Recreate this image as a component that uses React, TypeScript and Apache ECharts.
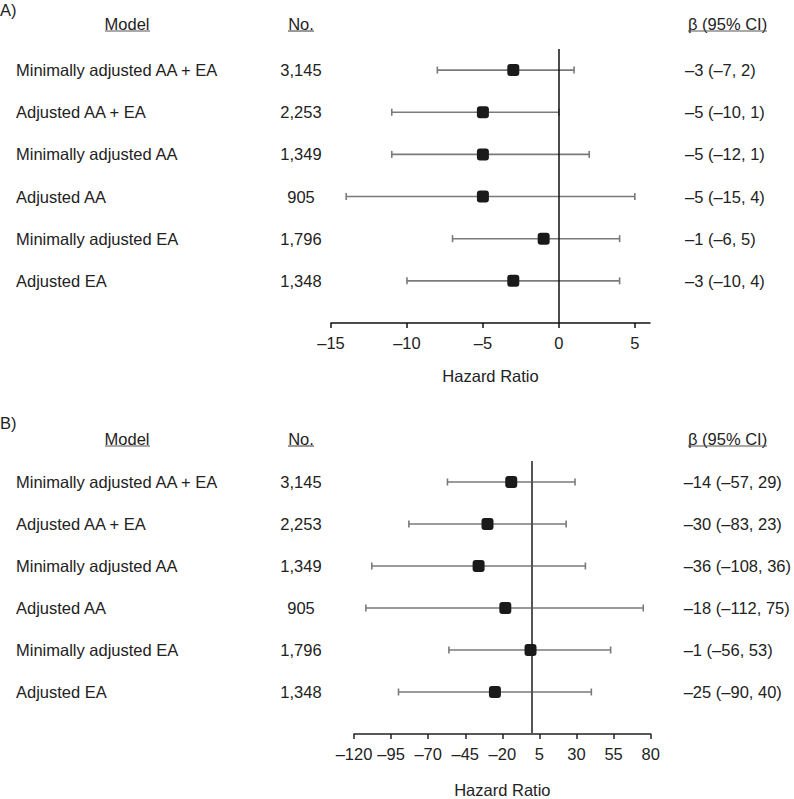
import React, { useEffect, useRef } from "react";
import * as echarts from "echarts";

const models = [
  "Minimally adjusted AA + EA",
  "Adjusted AA + EA",
  "Minimally adjusted AA",
  "Adjusted AA",
  "Minimally adjusted EA",
  "Adjusted EA",
];
const countsA = ["3,145", "2,253", "1,349", "905", "1,796", "1,348"];
const countsB = ["3,145", "2,253", "1,349", "905", "1,796", "1,348"];
const betaTextA = ["–3 (–7, 2)", "–5 (–10, 1)", "–5 (–12, 1)", "–5 (–15, 4)", "–1 (–6, 5)", "–3 (–10, 4)"];
const betaTextB = ["–14 (–57, 29)", "–30 (–83, 23)", "–36 (–108, 36)", "–18 (–112, 75)", "–1 (–56, 53)", "–25 (–90, 40)"];

// Panel A values as drawn
const estA = [-3, -5, -5, -5, -1, -3];
const lowA = [-8, -11, -11, -14, -7, -10];
const highA = [1, 0, 2, 5, 4, 4];
// Panel B values
const estB = [-14, -30, -36, -18, -1, -25];
const lowB = [-57, -83, -108, -112, -56, -90];
const highB = [29, 23, 36, 75, 53, 40];

const ticksA = [-15, -10, -5, 0, 5];
const ticksB = [-120, -95, -70, -45, -20, 5, 30, 55, 80];
const rows = [0, 1, 2, 3, 4, 5];

const FONT = "'Liberation Sans', Arial, Helvetica, sans-serif";
const TXT = "#222";
const FS = 16.5;

export default function App() {
  const ref = useRef<HTMLDivElement>(null);
  useEffect(() => {
    if (!ref.current) return;
    const chart = echarts.init(ref.current, null, { renderer: "svg" });

    const labelBase = { fontSize: FS, fontFamily: FONT, color: TXT };
    const dash = (v: number) => String(v).replace("-", "–");

    const yAxesFor = (grid: number, leftMargin: number, noMargin: number, rightMargin: number, counts: string[], betas: string[]) => {
      const common = {
        gridIndex: grid,
        type: "value",
        inverse: true,
        min: -0.5,
        max: 6,
        axisLine: { show: false, onZero: false },
        axisTick: { show: false },
        splitLine: { show: false },
      };
      return [
        { ...common, position: "left", axisLabel: { ...labelBase, customValues: rows, align: "left", margin: leftMargin, formatter: (v: number) => models[v] ?? "" } },
        { ...common, position: "left", axisLabel: { ...labelBase, customValues: rows, align: "center", margin: noMargin, formatter: (v: number) => counts[v] ?? "" } },
        { ...common, position: "right", axisLabel: { ...labelBase, customValues: rows, align: "left", margin: rightMargin, formatter: (v: number) => betas[v] ?? "" } },
      ];
    };

    const xAxisFor = (grid: number, min: number, max: number, ticks: number[], gap: number, color: string) => ({
      gridIndex: grid,
      type: "value",
      position: "bottom",
      min,
      max,
      splitLine: { show: false },
      axisLine: { onZero: false, lineStyle: { color, width: 1.5 } },
      axisTick: { customValues: ticks, length: 5, lineStyle: { color, width: 1.5 } },
      axisLabel: { ...labelBase, customValues: ticks, margin: 11, formatter: dash },
      name: "Hazard Ratio",
      nameLocation: "middle",
      nameGap: gap,
      nameTextStyle: { ...labelBase },
    });

    const errRender = (params: any, api: any) => {
      const y = api.value(2);
      const p1 = api.coord([api.value(0), y]);
      const p2 = api.coord([api.value(1), y]);
      const st = { stroke: "#7a7a7a", lineWidth: 1.6 };
      const c = 3.5;
      return {
        type: "group",
        children: [
          { type: "line", shape: { x1: p1[0], y1: p1[1], x2: p2[0], y2: p2[1] }, style: st },
          { type: "line", shape: { x1: p1[0], y1: p1[1] - c, x2: p1[0], y2: p1[1] + c }, style: st },
          { type: "line", shape: { x1: p2[0], y1: p2[1] - c, x2: p2[0], y2: p2[1] + c }, style: st },
        ],
      };
    };

    const seriesFor = (grid: number, yIdx: number, est: number[], low: number[], high: number[], zeroColor: string, zeroW: number) => [
      {
        type: "custom",
        xAxisIndex: grid,
        yAxisIndex: yIdx,
        renderItem: errRender,
        encode: { x: [0, 1], y: 2 },
        data: rows.map((r) => [low[r], high[r], r]),
        z: 2,
        silent: true,
      },
      {
        type: "scatter",
        xAxisIndex: grid,
        yAxisIndex: yIdx,
        symbol: "roundRect",
        symbolSize: 12,
        itemStyle: { color: "#1a1a1a", opacity: 1 },
        data: rows.map((r) => [est[r], r]),
        z: 4,
        silent: true,
        markLine: {
          silent: true,
          symbol: "none",
          label: { show: false },
          lineStyle: { color: zeroColor, width: zeroW, type: "solid" },
          data: [{ xAxis: 0 }],
          z: 3,
        },
      },
    ];

    const header = (yText: number, yLine: number, tag: string, yTag: number) => {
      const t = (text: string, x: number, y: number, align: string) => ({
        type: "text",
        x,
        y,
        style: { text, font: `${FS}px ${FONT}`, fill: TXT, textAlign: align, textVerticalAlign: "middle", align, verticalAlign: "middle" },
      });
      const ul = (x1: number, x2: number) => ({
        type: "line",
        shape: { x1, y1: yLine, x2, y2: yLine },
        style: { stroke: "#555", lineWidth: 1.2 },
      });
      return [
        t(tag, 0, yTag, "left"),
        t("Model", 127, yText, "center"),
        ul(105, 150),
        t("No.", 301, yText, "center"),
        ul(288, 314),
        t("β (95% CI)", 688, yText, "left"),
        ul(688, 767),
      ];
    };

    chart.setOption({
      animation: false,
      grid: [
        { left: 331, width: 319, top: 49, height: 274 },
        { left: 354, width: 298, top: 461, height: 273 },
      ],
      xAxis: [xAxisFor(0, -15, 6, ticksA, 44, "#111"), xAxisFor(1, -120, 80, ticksB, 47, "#222")],
      yAxis: [
        ...yAxesFor(0, 315, 30, 35, countsA, betaTextA),
        ...yAxesFor(1, 338, 53, 33, countsB, betaTextB),
      ],
      series: [
        ...seriesFor(0, 0, estA, lowA, highA, "#111", 1.5),
        ...seriesFor(1, 3, estB, lowB, highB, "#555", 2),
      ],
      graphic: [...header(24, 31, "A)", 10), ...header(439, 446, "B)", 423)],
    });

    return () => chart.dispose();
  }, []);
  return <div ref={ref} style={{ position: "absolute", left: 0, top: 0, width: 794, height: 799 }} />;
}
